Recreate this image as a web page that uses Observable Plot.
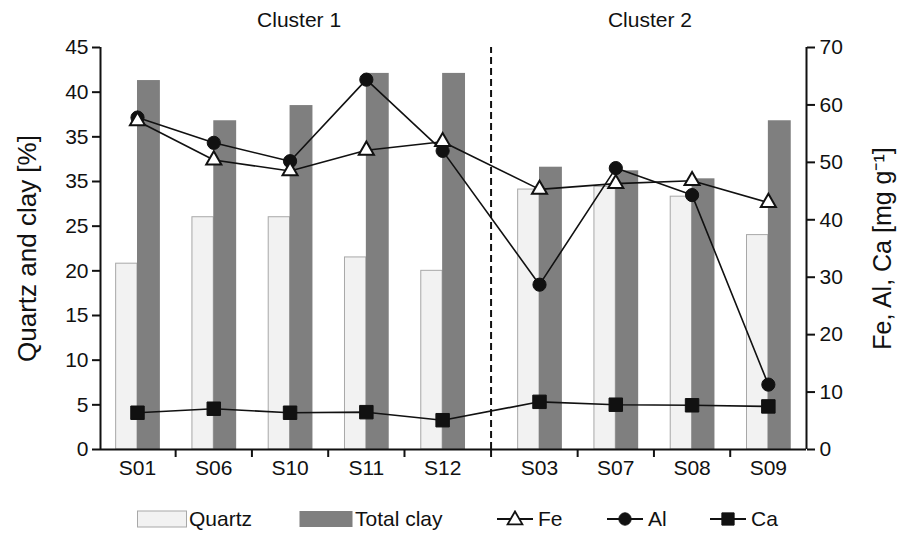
<!DOCTYPE html>
<html>
<head>
<meta charset="utf-8">
<script src="https://cdn.jsdelivr.net/npm/d3@7"></script>
<script src="https://cdn.jsdelivr.net/npm/@observablehq/plot@0.6"></script>
<style>
  html, body { margin: 0; padding: 0; background: #fff; }
  body { width: 907px; height: 533px; overflow: hidden; font-family: "Liberation Sans", Arial, sans-serif; }
  #chart svg { display: block; }
  #legend { position: relative; width: 907px; height: 43px; font-size: 21px; color: #111; }
  #legend .item { position: absolute; top: 7px; height: 43px; display: flex; align-items: center; }
  #legend svg { display: block; }
</style>
</head>
<body>
<div id="chart"></div>
<div id="legend"></div>
<script>
// ---- data ----
const samples = ["S01", "S06", "S10", "S11", "S12", "S03", "S07", "S08", "S09"];
const cluster = [1, 1, 1, 1, 1, 2, 2, 2, 2];
const clusterNames = ["Cluster 1", "Cluster 2"];
const quartz = [20.8, 26.0, 26.0, 21.5, 20.0, 29.1, 29.4, 28.3, 24.0];
const totalClay = [41.3, 36.8, 38.5, 42.1, 42.1, 31.6, 31.2, 30.3, 36.8];
const fe = [57.2, 50.4, 48.5, 52.1, 53.6, 45.3, 46.3, 46.8, 43.0];
const al = [57.8, 53.4, 50.2, 64.4, 52.0, 28.7, 49.0, 44.3, 11.3];
const ca = [6.4, 7.1, 6.4, 6.5, 5.1, 8.3, 7.8, 7.7, 7.5];
const leftTicks = [0, 5, 10, 15, 20, 25, 30, 35, 40, 45];
const leftTickLabels = ["0", "5", "10", "15", "20", "25", "35", "35", "40", "45"];
const rightTicks = [0, 10, 20, 30, 40, 50, 60, 70];

// ---- layout helpers ----
const GAP = 0.27;          // extra space between the clusters (in category steps)
const LEFT_MAX = 45, RIGHT_MAX = 70;
const R = v => v * LEFT_MAX / RIGHT_MAX; // right-axis value -> left scale
const xDomain = [-0.485, 8.77];

const rows = samples.map((s, i) => ({
  sample: s,
  cluster: cluster[i],
  pos: i + (cluster[i] === 2 ? GAP : 0),
  quartz: quartz[i],
  clay: totalClay[i],
  fe: fe[i],
  al: al[i],
  ca: ca[i]
}));
const posBySample = new Map(rows.map(d => [d.pos, d.sample]));
const positions = rows.map(d => d.pos);
const boundaries = d3.pairs(positions).map(([a, b]) => (a + b) / 2);
const splitIdx = cluster.findIndex(c => c === 2);
const splitX = (positions[splitIdx - 1] + positions[splitIdx]) / 2;
const clusterRows = [1, 2].map((c, k) => ({
  name: clusterNames[k],
  pos: d3.mean(rows.filter(d => d.cluster === c), d => d.pos)
}));

const font = "Liberation Sans, Arial, sans-serif";

const chart = Plot.plot({
  width: 907,
  height: 490,
  marginLeft: 100,
  marginRight: 101,
  marginTop: 47,
  marginBottom: 41,
  style: { fontFamily: font, fontSize: "21px", color: "#111", background: "#fff" },
  x: { type: "linear", domain: xDomain, axis: null },
  y: { domain: [0, LEFT_MAX], axis: null },
  marks: [
    // bars
    Plot.rectY(rows, { x1: d => d.pos - 0.28, x2: "pos", y1: 0, y2: "quartz", fill: "#f2f2f2", stroke: "#a8a8a8", strokeWidth: 1 }),
    Plot.rectY(rows, { x1: "pos", x2: d => d.pos + 0.30, y1: 0, y2: "clay", fill: "#7f7f7f" }),
    // cluster separator
    Plot.ruleX([splitX], { y1: 0, y2: LEFT_MAX, stroke: "#111", strokeWidth: 2, strokeDasharray: "7,4" }),
    // axis lines
    Plot.ruleX([xDomain[0], xDomain[1]], { y1: 0, y2: LEFT_MAX, stroke: "#111", strokeWidth: 2 }),
    Plot.ruleY([0], { stroke: "#111", strokeWidth: 2 }),
    // axes
    Plot.axisY({ anchor: "left", ticks: leftTicks, tickSize: 8, tickPadding: 4, strokeWidth: 2, fontSize: 21, fill: "#111",
      tickFormat: d => leftTickLabels[leftTicks.indexOf(d)], label: null }),
    Plot.axisY({ anchor: "right", ticks: rightTicks.map(R), tickSize: 8, tickPadding: 5, strokeWidth: 2, fontSize: 21, fill: "#111",
      tickFormat: d => String(Math.round(d * RIGHT_MAX / LEFT_MAX)), label: null }),
    Plot.axisX({ anchor: "bottom", ticks: boundaries, tickSize: 8, strokeWidth: 2, tickFormat: () => "", label: null }),
    Plot.axisX({ anchor: "bottom", ticks: positions, tickSize: 0, tickPadding: 11, fontSize: 21, fill: "#111",
      tickFormat: d => posBySample.get(d), label: null }),
    // lines
    Plot.line(rows, { x: "pos", y: d => R(d.al), stroke: "#111", strokeWidth: 1.6 }),
    Plot.line(rows, { x: "pos", y: d => R(d.fe), stroke: "#111", strokeWidth: 1.6 }),
    Plot.line(rows, { x: "pos", y: d => R(d.ca), stroke: "#111", strokeWidth: 1.6 }),
    // markers
    Plot.dot(rows, { x: "pos", y: d => R(d.al), r: 6.6, fill: "#111", stroke: "#111", strokeWidth: 1 }),
    Plot.dot(rows, { x: "pos", y: d => R(d.fe), symbol: "triangle", r: 5.6, fill: "#fff", stroke: "#111", strokeWidth: 2 }),
    Plot.dot(rows, { x: "pos", y: d => R(d.ca), symbol: "square", r: 7.6, fill: "#111", stroke: "#111", strokeWidth: 1 }),
    // cluster titles
    Plot.text([clusterRows[0]], { x: "pos", text: "name", frameAnchor: "top", dy: -27, dx: 9, fontSize: 21, fill: "#111", lineAnchor: "middle" }),
    Plot.text([clusterRows[1]], { x: "pos", text: "name", frameAnchor: "top", dy: -27, dx: -4, fontSize: 21, fill: "#111", lineAnchor: "middle" }),
    // axis titles
    Plot.text(["Quartz and clay [%]"], { text: d => d, frameAnchor: "left", dx: -73, rotate: -90, fontSize: 26, fill: "#111", lineAnchor: "middle", textAnchor: "middle" }),
    Plot.text(["Fe, Al, Ca [mg g\u207B\u00B9]"], { text: d => d, frameAnchor: "right", dx: 76, rotate: -90, fontSize: 25, fill: "#111", lineAnchor: "middle", textAnchor: "middle" })
  ]
});
document.getElementById("chart").appendChild(chart);

// ---- legend ----
const legendItems = [
  { label: "Quartz", kind: "box", fill: "#f2f2f2", stroke: "#a8a8a8", left: 137, w: 50 },
  { label: "Total clay", kind: "box", fill: "#7f7f7f", stroke: "none", left: 299, w: 54 },
  { label: "Fe", kind: "triangle", left: 497, w: 36 },
  { label: "Al", kind: "circle", left: 607, w: 36 },
  { label: "Ca", kind: "square", left: 710, w: 36 }
];
const legend = d3.select("#legend");
for (const it of legendItems) {
  const item = legend.append("div").attr("class", "item").style("left", it.left + "px");
  const svg = item.append("svg").attr("width", it.w).attr("height", 18);
  if (it.kind === "box") {
    svg.append("rect").attr("x", 0.5).attr("y", 1).attr("width", it.w - 1).attr("height", 16)
      .attr("fill", it.fill).attr("stroke", it.stroke);
  } else {
    svg.append("line").attr("x1", 0).attr("x2", it.w).attr("y1", 9).attr("y2", 9).attr("stroke", "#111").attr("stroke-width", 2);
    const sym = it.kind === "triangle" ? d3.symbolTriangle : it.kind === "circle" ? d3.symbolCircle : d3.symbolSquare;
    const size = it.kind === "square" ? 150 : it.kind === "circle" ? 120 : 95;
    svg.append("path").attr("transform", `translate(${it.w / 2},${it.kind === "triangle" ? 10 : 9})`)
      .attr("d", d3.symbol(sym, size)())
      .attr("fill", it.kind === "triangle" ? "#fff" : "#111").attr("stroke", "#111").attr("stroke-width", it.kind === "triangle" ? 1.8 : 1);
  }
  item.append("span").style("margin-left", it.kind === "box" ? "2px" : "5px").text(it.label);
}
</script>
</body>
</html>
